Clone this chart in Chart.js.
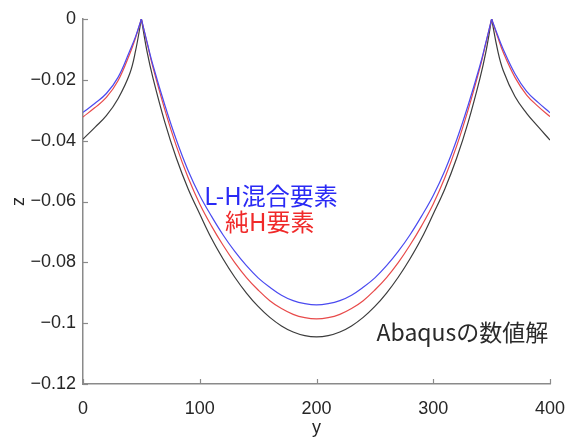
<!DOCTYPE html>
<html>
<head>
<meta charset="utf-8">
<script src="https://cdn.jsdelivr.net/npm/chart.js@4.4.1/dist/chart.umd.min.js"></script>
<style>
html,body{margin:0;padding:0;background:#fff;}
#wrap{width:568px;height:439px;}
</style>
</head>
<body>
<div id="wrap"><canvas id="c" width="568" height="439"></canvas></div>
<script>
const yPositions = [0,10,20,30,40,45,50,55,60,70,80,90,100,110,120,130,140,150,160,170,180,190,200,210,220,230,240,250,260,270,280,290,300,310,320,330,340,345,350,355,360,370,380,390,400];

const zLH = [-0.0307,-0.0278,-0.0245,-0.0192,-0.0105,-0.0058,0,-0.0078,-0.0153,-0.0282,-0.0398,-0.0498,-0.0580,-0.0648,-0.0710,-0.0764,-0.0811,-0.0851,-0.0882,-0.0908,-0.0926,-0.0936,-0.0940,
  -0.0936,-0.0926,-0.0908,-0.0882,-0.0851,-0.0811,-0.0764,-0.0710,-0.0648,-0.0580,-0.0498,-0.0398,-0.0282,-0.0153,-0.0078,0,-0.0052,-0.0100,-0.0180,-0.0238,-0.0275,-0.0308];

const zH = [-0.0322,-0.0292,-0.0258,-0.0203,-0.0115,-0.0062,0,-0.0081,-0.0160,-0.0297,-0.0418,-0.0521,-0.0608,-0.0680,-0.0744,-0.0801,-0.0850,-0.0891,-0.0926,-0.0952,-0.0971,-0.0982,-0.0986,
  -0.0982,-0.0971,-0.0952,-0.0926,-0.0891,-0.0850,-0.0801,-0.0744,-0.0680,-0.0608,-0.0521,-0.0418,-0.0297,-0.0160,-0.0081,0,-0.0057,-0.0110,-0.0192,-0.0250,-0.0288,-0.0321];

const zAbaqus = [-0.0395,-0.0357,-0.0318,-0.0262,-0.0180,-0.0105,0,-0.0110,-0.0195,-0.0338,-0.0458,-0.0558,-0.0641,-0.0721,-0.0789,-0.0849,-0.0901,-0.0945,-0.0981,-0.1009,-0.1029,-0.1041,-0.1045,
  -0.1041,-0.1029,-0.1009,-0.0981,-0.0945,-0.0901,-0.0849,-0.0789,-0.0721,-0.0641,-0.0558,-0.0458,-0.0338,-0.0195,-0.0110,0,-0.0100,-0.0170,-0.0255,-0.0310,-0.0355,-0.0398];

const seriesNames = ['L-H混合要素','純H要素','Abaqusの数値解'];
const supportPositions = [50,350];
const xTicks = [0,100,200,300,400];
const zTicks = [0,-0.02,-0.04,-0.06,-0.08,-0.1,-0.12];

const colors = ['#4a4af0','#e84a4a','#3c3c3c'];
const textColors = ['#2a2af5','#f02a2a','#2a2a2a'];
const labelPos = [[161,-0.0582],[160,-0.0667],[325,-0.1029]];

// split each curve at the supports so the cusps stay sharp while spans are smooth
function segments(arr){
  const cuts = supportPositions.map(s => yPositions.indexOf(s));
  const bounds = [0, ...cuts, yPositions.length-1];
  const out = [];
  for (let k=0; k<bounds.length-1; k++){
    const seg = [];
    for (let i=bounds[k]; i<=bounds[k+1]; i++) seg.push({x:yPositions[i], y:arr[i]});
    out.push(seg);
  }
  return out;
}

const fmt = v => {
  if (v === 0) return '0';
  return '\u2212' + String(Math.abs(Math.round(v*100)/100));
};

const axisColor = '#8a8a8a';
const textColor = '#262626';
const tickFont = {family:'"Liberation Sans", Arial, sans-serif', size:18};

const innerTicks = {
  id:'innerTicks',
  afterDraw(chart){
    const ctx = chart.ctx;
    const xs = chart.scales.x, ys = chart.scales.y;
    ctx.save();
    ctx.strokeStyle = axisColor;
    ctx.lineWidth = 1.2;
    xTicks.forEach(v=>{
      const p = Math.round(xs.getPixelForValue(v))+0.5;
      ctx.beginPath(); ctx.moveTo(p, ys.bottom); ctx.lineTo(p, ys.bottom-5); ctx.stroke();
    });
    zTicks.forEach(v=>{
      const p = Math.round(ys.getPixelForValue(v))+0.5;
      ctx.beginPath(); ctx.moveTo(xs.left, p); ctx.lineTo(xs.left+5, p); ctx.stroke();
    });
    ctx.restore();
  }
};

const seriesLabels = {
  id:'seriesLabels',
  afterDraw(chart){
    const ctx = chart.ctx;
    const xs = chart.scales.x, ys = chart.scales.y;
    ctx.save();
    ctx.textAlign = 'center';
    ctx.textBaseline = 'middle';
    seriesNames.forEach((n,i)=>{
      ctx.font = (i===2 ? '23px' : '24px') + ' "Noto Sans CJK JP", "Noto Sans", sans-serif';
      ctx.fillStyle = textColors[i];
      ctx.fillText(n, xs.getPixelForValue(labelPos[i][0]), ys.getPixelForValue(labelPos[i][1]));
    });
    ctx.restore();
  }
};

const datasets = [];
[zLH,zH,zAbaqus].forEach((arr,i)=>{
  segments(arr).forEach(seg=>{
    datasets.push({
      label:seriesNames[i],
      data:seg,
      borderColor:colors[i],
      borderWidth:1.2,
      pointRadius:0,
      tension:0.4,
      fill:false
    });
  });
});

new Chart(document.getElementById('c'), {
  type:'line',
  data:{datasets},
  options:{
    responsive:false,
    devicePixelRatio:1,
    animation:false,
    layout:{padding:{left:0,right:18,top:19,bottom:0}},
    plugins:{legend:{display:false},tooltip:{enabled:false}},
    scales:{
      x:{
        type:'linear', min:0, max:400,
        afterBuildTicks(s){ s.ticks = xTicks.map(v=>({value:v})); },
        afterFit(s){ s.height = 55; s.paddingLeft = 0; s.paddingRight = 0; },
        grid:{display:true, drawOnChartArea:false, drawTicks:false},
        border:{display:true, color:axisColor, width:1.5},
        ticks:{color:textColor, font:tickFont, padding:14, maxRotation:0},
        title:{display:true, text:'y', color:textColor, font:tickFont, padding:{top:0,bottom:0}}
      },
      y:{
        type:'linear', min:-0.12, max:0,
        afterBuildTicks(s){ s.ticks = zTicks.map(v=>({value:v})); },
        afterFit(s){ s.width = 83; s.paddingTop = 0; s.paddingBottom = 0; },
        grid:{display:true, drawOnChartArea:false, drawTicks:false},
        border:{display:true, color:axisColor, width:1.5},
        ticks:{color:textColor, font:tickFont, padding:7, callback:(v)=>fmt(v)},
        title:{display:true, text:'z', color:textColor, font:tickFont, padding:{top:8,bottom:0}}
      }
    }
  },
  plugins:[innerTicks, seriesLabels]
});
</script>
</body>
</html>
